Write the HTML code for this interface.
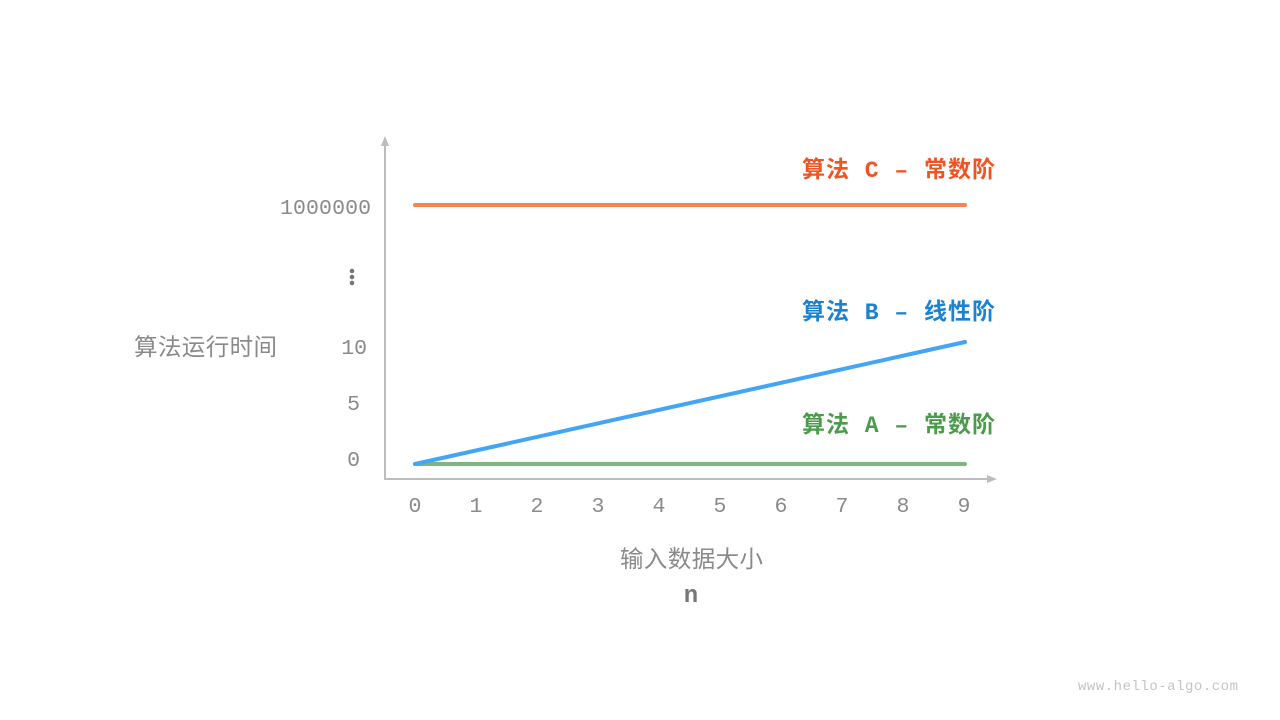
<!DOCTYPE html>
<html><head><meta charset="utf-8"><style>
body{margin:0;background:#fff}
svg{display:block}
.m{font-family:"Liberation Mono","DejaVu Sans Mono",monospace;font-size:21.5px;fill:#8a8a8a}
.c{font-family:"Liberation Sans","Noto Sans CJK SC",sans-serif}
.l{font-family:"Liberation Mono","Noto Sans CJK SC",monospace}
</style></head><body>
<svg width="1280" height="720" viewBox="0 0 1280 720">
<g stroke="#bdbdbd" stroke-width="2" fill="none">
<line x1="385" y1="142" x2="385" y2="479"/>
<line x1="384" y1="479" x2="991" y2="479"/>
</g>
<polygon points="385,136 381,146 389,146" fill="#bdbdbd"/>
<polygon points="997,479 987,475 987,483" fill="#bdbdbd"/>
<g stroke-linecap="round" stroke-width="4">
<line x1="415" y1="205" x2="965" y2="205" stroke="#f5844e"/>
<line x1="415" y1="464" x2="965" y2="464" stroke="#7cb87c"/>
<line x1="415" y1="464" x2="965" y2="342" stroke="#42a5f5"/>
</g>
<g class="m" text-anchor="end">
<text x="371" y="214" textLength="91">1000000</text>
<text x="367" y="354">10</text>
<text x="360" y="410">5</text>
<text x="360" y="466">0</text>
</g>
<g fill="#777"><circle cx="352" cy="271" r="2.3"/><circle cx="352" cy="277" r="2.3"/><circle cx="352" cy="283" r="2.3"/></g>
<g class="m" text-anchor="middle">
<text x="415" y="512">0</text><text x="476" y="512">1</text><text x="537" y="512">2</text><text x="598" y="512">3</text><text x="659" y="512">4</text><text x="720" y="512">5</text><text x="781" y="512">6</text><text x="842" y="512">7</text><text x="903" y="512">8</text><text x="964" y="512">9</text>
</g>
<g class="l" font-weight="bold" font-size="23">
<text x="802" y="177" fill="#ef5423" textLength="193" lengthAdjust="spacing" xml:space="preserve">算法 C – 常数阶</text>
<text x="802" y="319" fill="#1b82d1" textLength="193" lengthAdjust="spacing" xml:space="preserve">算法 B – 线性阶</text>
<text x="802" y="432" fill="#4c9a4c" textLength="193" lengthAdjust="spacing" xml:space="preserve">算法 A – 常数阶</text>
</g>
<text class="c" x="134" y="355" font-size="23.5" fill="#8a8a8a" textLength="143">算法运行时间</text>
<text class="c" x="620" y="567" font-size="23.5" fill="#8a8a8a" textLength="143">输入数据大小</text>
<text x="691" y="602" font-family="Liberation Mono,monospace" font-weight="bold" font-size="24" fill="#777" text-anchor="middle">n</text>
<text x="1078" y="690" font-family="Liberation Mono,monospace" font-size="14" fill="#c4c4c4" textLength="160">www.hello-algo.com</text>
</svg>
</body></html>
